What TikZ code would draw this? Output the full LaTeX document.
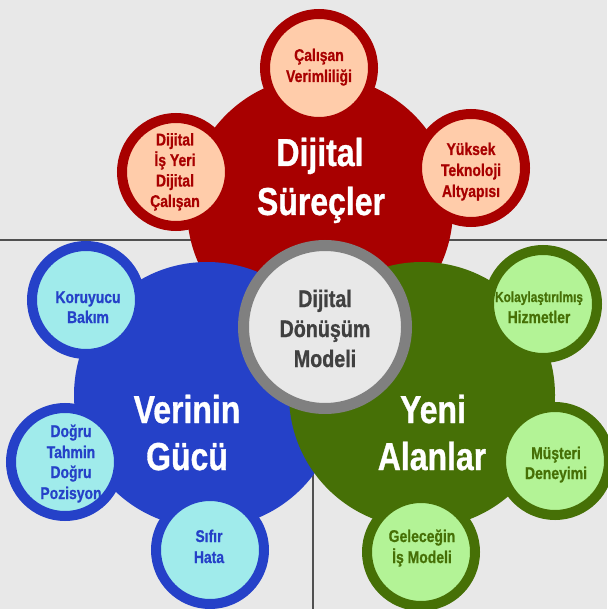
\documentclass[tikz,border=0pt]{standalone}
\usepackage{fontspec}
\setmainfont{Liberation Sans}
\newfontfamily\nbf{Liberation Sans Bold}[FakeStretch=0.82, FakeBold=0.8]
\definecolor{bgc}{HTML}{E8E8E8}
\definecolor{sepc}{HTML}{505050}
\definecolor{redc}{HTML}{A80000}
\definecolor{peach}{HTML}{FFCCAA}
\definecolor{bluec}{HTML}{2541C8}
\definecolor{cyanl}{HTML}{A0EBEB}
\definecolor{greenc}{HTML}{467006}
\definecolor{greenl}{HTML}{B3F396}
\definecolor{ringc}{HTML}{808080}
\definecolor{gtxt}{HTML}{404040}
\begin{document}
\begin{tikzpicture}[x=1pt,y=-1pt,
  sepline/.style={draw=sepc, line width=2.6pt},
  bigc/.style={circle, minimum size=266pt, inner sep=0pt},
  smallc/.style={circle, minimum size=108pt, inner sep=0pt, line width=10pt},
  bigtxt/.style={anchor=base, inner sep=0pt, text=white, font=\nbf\fontsize{39}{49}\selectfont},
  smalltxt/.style={anchor=base, inner sep=0pt, font=\nbf\fontsize{17}{20.5}\selectfont},
  midtxt/.style={anchor=base, inner sep=0pt, text=gtxt, font=\nbf\fontsize{24}{30}\selectfont}]
\fill[bgc] (0,0) rectangle (607,609);
\useasboundingbox (0,0) rectangle (607,609);
% separator lines
\coordinate (hl) at (0,240);
\coordinate (hr) at (607,240);
\coordinate (vt) at (313,240);
\coordinate (vb) at (313,609);
\draw[sepline] (hl) -- (hr);
\draw[sepline] (vt) -- (vb);
% big circles
\node[bigc, fill=redc] (red) at (320,209) {};
\node[bigc, fill=bluec] (blue) at (207,395) {};
\node[bigc, fill=greenc] (green) at (422,395) {};
% centre circle
\node[circle, minimum size=163pt, inner sep=0pt, draw=ringc, line width=11pt, fill=bgc] (mid) at (325,327) {};
% small circles red
\node[smallc, draw=redc, fill=peach] (r1) at (319,68) {};
\node[smallc, draw=redc, fill=peach] (r2) at (176,172) {};
\node[smallc, draw=redc, fill=peach] (r3) at (471,168) {};
% small circles blue
\node[smallc, draw=bluec, fill=cyanl] (b1) at (86,300) {};
\node[smallc, draw=bluec, fill=cyanl] (b2) at (65,462) {};
\node[smallc, draw=bluec, fill=cyanl] (b3) at (210,550) {};
% small circles green
\node[smallc, draw=greenc, fill=greenl] (g1) at (543,304) {};
\node[smallc, draw=greenc, fill=greenl] (g2) at (555,461) {};
\node[smallc, draw=greenc, fill=greenl] (g3) at (421,552) {};
% big texts
\node[bigtxt] (redt1) at (320,166) {Dijital};
\node[bigtxt] (redt2) at (321,215) {Süreçler};
\node[bigtxt] (bluet1) at (187,423) {Verinin};
\node[bigtxt] (bluet2) at (187,470) {Gücü};
\node[bigtxt] (greent1) at (433,423) {Yeni};
\node[bigtxt] (greent2) at (432,470) {Alanlar};
% centre text
\node[midtxt] (midt1) at (325,307) {Dijital};
\node[midtxt] (midt2) at (325,337) {Dönüşüm};
\node[midtxt] (midt3) at (325,367) {Modeli};
% red small texts
\begin{scope}[every node/.append style={text=redc}]
\node[smalltxt] (r1a) at (319,61) {Çalışan};
\node[smalltxt] (r1b) at (319,82) {Verimliliği};
\node[smalltxt] (r2a) at (175,145.5) {Dijital};
\node[smalltxt] (r2b) at (175,166) {İş Yeri};
\node[smalltxt] (r2c) at (175,186.5) {Dijital};
\node[smalltxt] (r2d) at (175,207) {Çalışan};
\node[smalltxt] (r3a) at (471,155) {Yüksek};
\node[smalltxt] (r3b) at (471,176) {Teknoloji};
\node[smalltxt] (r3c) at (471,197) {Altyapısı};
\end{scope}
% blue small texts
\begin{scope}[every node/.append style={text=bluec}]
\node[smalltxt] (b1a) at (88,303) {Koruyucu};
\node[smalltxt] (b1b) at (88,323) {Bakım};
\node[smalltxt] (b2a) at (71,437) {Doğru};
\node[smalltxt] (b2b) at (71,458) {Tahmin};
\node[smalltxt] (b2c) at (71,478) {Doğru};
\node[smalltxt] (b2d) at (71,499) {Pozisyon};
\node[smalltxt] (b3a) at (209,542) {Sıfır};
\node[smalltxt] (b3b) at (209,563) {Hata};
\end{scope}
% green small texts
\begin{scope}[every node/.append style={text=greenc}]
\node[smalltxt, font=\nbf\fontsize{14.5}{20.5}\selectfont] (g1a) at (539,302) {Kolaylaştırılmış};
\node[smalltxt] (g1b) at (539,323) {Hizmetler};
\node[smalltxt] (g2a) at (556,459) {Müşteri};
\node[smalltxt] (g2b) at (556,479) {Deneyimi};
\node[smalltxt] (g3a) at (422,542) {Geleceğin};
\node[smalltxt] (g3b) at (422,563) {İş Modeli};
\end{scope}
\end{tikzpicture}
\end{document}
